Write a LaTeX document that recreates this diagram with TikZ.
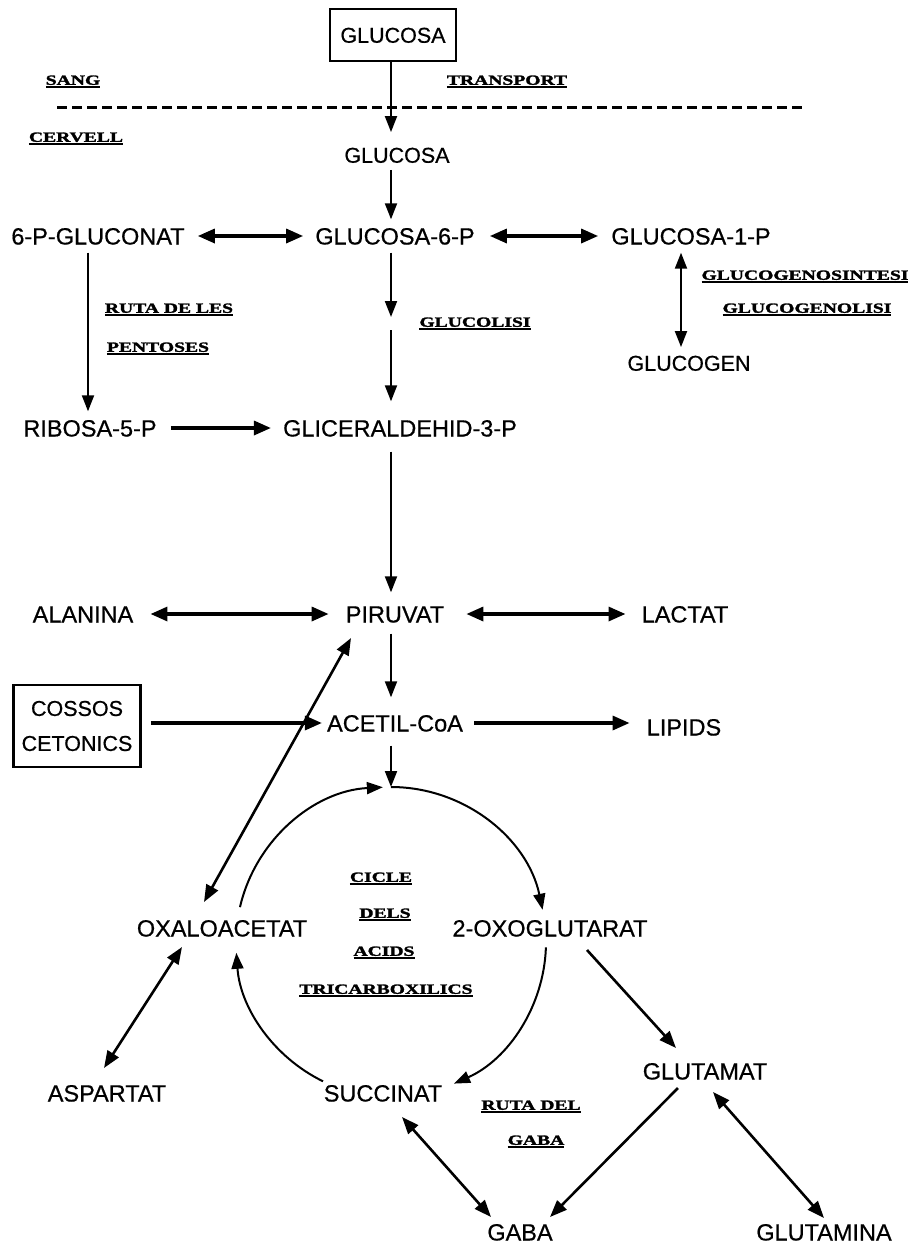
\documentclass[tikz,border=0pt]{standalone}
\usepackage{fontspec}
\usetikzlibrary{arrows.meta,calc}
\newfontfamily\nf[FakeBold=0.6]{Liberation Sans}
\newfontfamily\lf[FakeStretch=1.4,FakeBold=2]{Liberation Serif}
\newcommand\labu[1]{\setbox0\hbox{#1}\leavevmode\rlap{\rule[-3.2pt]{\wd0}{2pt}}\box0}
\begin{document}
\begin{tikzpicture}[x=1pt,y=-1pt,
  >={Triangle[length=16pt,width=12pt]},
  nd/.style={font=\nf\fontsize{23.5}{27}\selectfont, inner sep=0pt, text height=17pt, text depth=0pt},
  nds/.style={font=\nf\fontsize{21.5}{25}\selectfont, inner sep=0pt, text height=15.5pt, text depth=0pt},
  lab/.style={font=\lf\bfseries\fontsize{14}{16}\selectfont, inner sep=0pt, text height=9.5pt, text depth=0pt},
  aw/.style={line width=2pt},
  aww/.style={line width=3.3pt, >={Triangle[length=17pt,width=14pt]}},
  adg/.style={line width=2.6pt, >={Triangle[length=17pt,width=13pt]}},
  boxnode/.style={nds, draw, line width=2.6pt}]
\useasboundingbox (0,0) rectangle (917,1245);
% reference verticals
\coordinate (vx) at (391,0);
\coordinate (vxa) at (88,0);
\coordinate (vxb) at (681,0);
% nodes
\node[boxnode, minimum width=126pt, minimum height=52pt] (gbox) at (393,35) {GLUCOSA};
\node[lab] (sang) at (73,80) {\labu{SANG}};
\node[lab] (transport) at (507,80) {\labu{TRANSPORT}};
\coordinate (dl1) at (57,107);
\coordinate (dl2) at (806,107);
\node[lab] (cervell) at (76,137) {\labu{CERVELL}};
\node[nds] (g2) at (397,155) {GLUCOSA};
\node[nd] (pg6) at (98,236) {6-P-GLUCONAT};
\node[nd] (g6p) at (395,236) {GLUCOSA-6-P};
\node[nd] (g1p) at (691,236) {GLUCOSA-1-P};
\node[lab] (glsin) at (805,275) {\labu{GLUCOGENOSINTESI}};
\node[lab] (gllis) at (807,308) {\labu{GLUCOGENOLISI}};
\node[lab] (ruta) at (169,308) {\labu{RUTA DE LES}};
\node[lab] (pent) at (158,347) {\labu{PENTOSES}};
\node[lab] (gluco) at (475,322) {\labu{GLUCOLISI}};
\node[nds] (glucogen) at (689,363) {GLUCOGEN};
\node[nd] (rib) at (90,428) {RIBOSA-5-P};
\node[nd] (gli) at (400,428) {GLICERALDEHID-3-P};
\node[nd] (ala) at (83,614) {ALANINA};
\node[nd] (piru) at (395,614) {PIRUVAT};
\node[nd] (lact) at (685,614) {LACTAT};
\node[draw, line width=2.6pt, minimum width=127pt, minimum height=82pt, inner sep=0pt,
      align=center, font=\nf\fontsize{21.5}{35}\selectfont] (cos) at (77,726) {COSSOS\\CETONICS};
\node[nd] (acetil) at (395,723) {ACETIL-CoA};
\node[nd] (lip) at (684,727) {LIPIDS};
\node[nd] (oxa) at (222,928) {OXALOACETAT};
\node[nd] (oxo) at (550,928) {2-OXOGLUTARAT};
\node[lab] (cicle) at (381,877) {\labu{CICLE}};
\node[lab] (dels) at (385,913) {\labu{DELS}};
\node[lab] (acids) at (384,951) {\labu{ACIDS}};
\node[lab] (tric) at (386,989) {\labu{TRICARBOXILICS}};
\node[nd] (asp) at (107,1093) {ASPARTAT};
\node[nd] (succ) at (383,1093) {SUCCINAT};
\node[lab] (rutadel) at (531,1105) {\labu{RUTA DEL}};
\node[lab] (gabal) at (536,1140) {\labu{GABA}};
\node[nd] (glut) at (705,1071) {GLUTAMAT};
\node[nd] (gaba) at (520,1232) {GABA};
\node[nd] (glum) at (824,1232) {GLUTAMINA};
% dashed border
\draw[line width=3pt, dash pattern=on 10pt off 5pt] (dl1) -- (dl2);
% vertical arrows
\draw[aw,->,shorten >=15pt] (gbox.south -| vx) -- (g2.north -| vx);
\draw[aw,->,shorten <=7pt,shorten >=8pt] (g2.south -| vx) -- (g6p.north -| vx);
\coordinate (brk1) at (391,317);
\coordinate (brk2) at (391,330);
\draw[aw,->,shorten <=8pt] (g6p.south -| vx) -- (brk1);
\draw[aw,->,shorten >=18pt] (brk2) -- (gli.north -| vx);
\draw[aw,->,shorten <=8pt,shorten >=8pt] (pg6.south -| vxa) -- (rib.north -| vxa);
\draw[aw,<->,shorten <=8pt,shorten >=8pt] (g1p.south -| vxb) -- (glucogen.north -| vxb);
\draw[aw,->,shorten <=15pt,shorten >=13pt] (gli.south -| vx) -- (piru.north -| vx);
\draw[aw,->,shorten <=11pt,shorten >=17pt] (piru.south -| vx) -- (acetil.north -| vx);
\coordinate (c) at (391,942);
\coordinate (ctop) at ([shift={(270:155)}]c);
\draw[aw,->,shorten <=14pt] (acetil.south -| vx) -- (ctop);
% horizontal arrows
\draw[aww,<->,shorten <=13pt,shorten >=12pt] (pg6.east) -- (g6p.west);
\draw[aww,<->,shorten <=15pt,shorten >=13pt] (g6p.east) -- (g1p.west);
\draw[aww,->,shorten <=14pt,shorten >=12pt] (rib.east) -- (gli.west);
\draw[aww,<->,shorten <=17pt,shorten >=17pt] (ala.east) -- (piru.west);
\draw[aww,<->,shorten <=22pt,shorten >=16pt] (piru.east) -- (lact.west);
\draw[aww,->,shorten <=9pt,shorten >=5pt] (cos.east |- acetil.west) -- (acetil.west);
\draw[aww,->,shorten <=11pt,shorten >=17pt] (acetil.east) -- (acetil.east -| lip.west);
% cycle
\draw[aw,->] ([shift={(193:155)}]c) arc[start angle=193,end angle=267,radius=155];
\draw[aw,->] (ctop) arc[start angle=270,end angle=348,radius=155];
\draw[aw,->] ([shift={(2:155)}]c) arc[start angle=2,end angle=66,radius=155];
\draw[aw,->] ([shift={(116:155)}]c) arc[start angle=116,end angle=176,radius=155];
% diagonal arrows
\draw[adg,<->] ([shift={(-44,24)}]piru.center) -- ([shift={(-18,-26)}]oxa.center);
\draw[adg,<->] ([shift={(-40,19)}]oxa.center) -- ([shift={(-3,-25)}]asp.center);
\draw[adg,->] ([shift={(37,22)}]oxo.center) -- ([shift={(-29,-23)}]glut.center);
\draw[adg,<->] ([shift={(19,24)}]succ.center) -- ([shift={(-29,-15)}]gaba.center);
\draw[adg,->] ([shift={(-27,17)}]glut.center) -- ([shift={(30,-15)}]gaba.center);
\draw[adg,<->] ([shift={(8,21)}]glut.center) -- ([shift={(0,-14)}]glum.center);
\end{tikzpicture}
\end{document}
